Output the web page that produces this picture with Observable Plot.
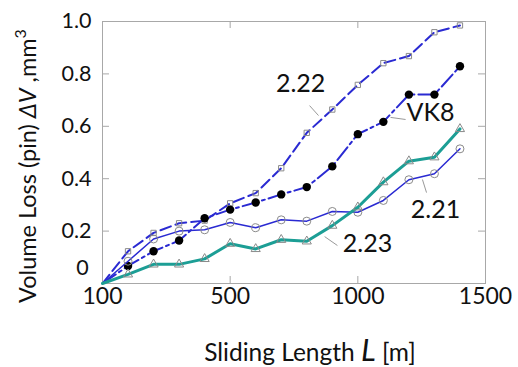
<!DOCTYPE html>
<html><head><meta charset="utf-8">
<script src="https://cdn.jsdelivr.net/npm/d3@7"></script>
<script src="https://cdn.jsdelivr.net/npm/@observablehq/plot@0.6"></script>
<style>body{margin:0;background:#fff} svg{display:block}</style>
</head><body><div id="chart"></div>
<script>
// ---- data ----
const lengths = [0,100,200,300,400,500,600,700,800,900,1000,1100,1200,1300,1400];
const v222 = [0,0.123,0.193,0.230,0.240,0.306,0.345,0.440,0.575,0.664,0.758,0.841,0.868,0.959,0.985];
const vVK8 = [0,0.067,0.123,0.164,0.249,0.282,0.309,0.340,0.368,0.447,0.570,0.617,0.721,0.721,0.829];
const v221 = [0,0.085,0.170,0.200,0.205,0.233,0.213,0.243,0.238,0.275,0.272,0.317,0.396,0.419,0.514];
const v223 = [0,0.035,0.073,0.073,0.094,0.152,0.132,0.167,0.161,0.221,0.291,0.387,0.467,0.482,0.590];
const xTicks = [0,500,1000,1500];
const xTickLabels = ["100","500","1000","1500"];
const yTicks = [0.2,0.4,0.6,0.8,1.0];
const labels = ["2.22","VK8","2.21","2.23"];
const labelX = [776,1285,1304,1038];
const labelY = [0.763,0.649,0.279,0.149];
const leadX1 = [811,1128,1253,870], leadY1 = [0.679,0.634,0.397,0.179];
const leadX2 = [846,1187,1269,920], leadY2 = [0.641,0.626,0.347,0.145];

// ---- layout ----
const W = 518, H = 367, mL = 102, mR = 33, mT = 21, mB = 84;
const pH = H - mT - mB, pW = W - mL - mR;
const blue = "#2a2ad2", teal = "#1c9e95", mark = "#8a8a8a", frame = "#a8a8a8";

const pts = v => lengths.map((x,i)=>({x, y:v[i]}));
const ptsM = v => pts(v).filter(d=>d.x>0);
const ann = labels.map((t,i)=>({t, x:labelX[i], y:labelY[i], x1:leadX1[i], y1:leadY1[i], x2:leadX2[i], y2:leadY2[i]}));

const chart = Plot.plot({
  width: W, height: H, marginLeft: mL, marginRight: mR, marginTop: mT, marginBottom: mB,
  style: {fontFamily: "Lato", background: "#fff", color: "#111"},
  x: {domain: [0,1500]}, y: {domain: [0,1]},
  marks: [
    Plot.frame({stroke: frame}),
    Plot.tickX(xTicks.slice(1,3), {x: d=>d, stroke: frame, insetTop: pH-7}),
    Plot.tickX(xTicks.slice(1,3), {x: d=>d, stroke: frame, insetBottom: pH-7}),
    Plot.tickY(yTicks.slice(0,4), {y: d=>d, stroke: frame, insetRight: pW-7}),
    Plot.tickY(yTicks.slice(0,4), {y: d=>d, stroke: frame, insetLeft: pW-7}),
    Plot.axisX({ticks: xTicks, tickFormat: d=>xTickLabels[xTicks.indexOf(d)], tickSize: 0, tickPadding: 4, fontSize: 23, label: null}),
    Plot.axisY({ticks: yTicks, tickFormat: d3.format(".1f"), tickSize: 0, tickPadding: 11, fontSize: 21.5, label: null}),
    Plot.text([0], {x: 0, y: d=>d, text: d=>String(d), dx: -20, dy: -15, fontSize: 21.5}),
    // 2.22
    Plot.line(pts(v222), {x:"x", y:"y", stroke: blue, strokeWidth: 2, strokeDasharray: "11,5"}),
    Plot.dot(ptsM(v222), {x:"x", y:"y", symbol:"square", r: 3, stroke: mark, fill: "none", strokeWidth: 1}),
    // VK8
    Plot.line(pts(vVK8), {x:"x", y:"y", stroke: blue, strokeWidth: 2, strokeDasharray: "16,4,3,4"}),
    Plot.dot(ptsM(vVK8), {x:"x", y:"y", r: 4.2, fill: "#000"}),
    // 2.21
    Plot.line(pts(v221), {x:"x", y:"y", stroke: blue, strokeWidth: 1.5}),
    Plot.dot(ptsM(v221), {x:"x", y:"y", r: 4, stroke: mark, fill: "none", strokeWidth: 1}),
    // 2.23
    Plot.line(pts(v223), {x:"x", y:"y", stroke: teal, strokeWidth: 3}),
    Plot.dot(ptsM(v223), {x:"x", y:"y", symbol:"triangle", r: 3.4, stroke: mark, fill: "none", strokeWidth: 1}),
    // annotations
    Plot.link(ann, {x1:"x1", y1:"y1", x2:"x2", y2:"y2", stroke: "#999", strokeWidth: 1}),
    Plot.text(ann, {x:"x", y:"y", text:"t", fontSize: 25, fill: "#111"})
  ]
});

const svg = d3.select(chart);
// x title
const xt = svg.append("text").attr("x", 310).attr("y", 361).attr("text-anchor","middle")
  .attr("font-family","Lato").attr("font-size", 24.5).attr("fill","#111");
xt.append("tspan").text("Sliding Length ");
xt.append("tspan").attr("font-style","italic").attr("font-size",31).text("L");
xt.append("tspan").text(" [m]");
// y title
const yt = svg.append("text").attr("transform","translate(36,166) rotate(-90)").attr("text-anchor","middle")
  .attr("font-family","Lato").attr("font-size", 23.5).attr("fill","#111");
yt.append("tspan").text("Volume Loss (pin) ");
yt.append("tspan").attr("font-style","italic").text("ΔV");
yt.append("tspan").text(" ,mm");
yt.append("tspan").attr("font-size",16).attr("dy",-10).text("3");

document.getElementById("chart").appendChild(chart);
</script>
</body></html>
